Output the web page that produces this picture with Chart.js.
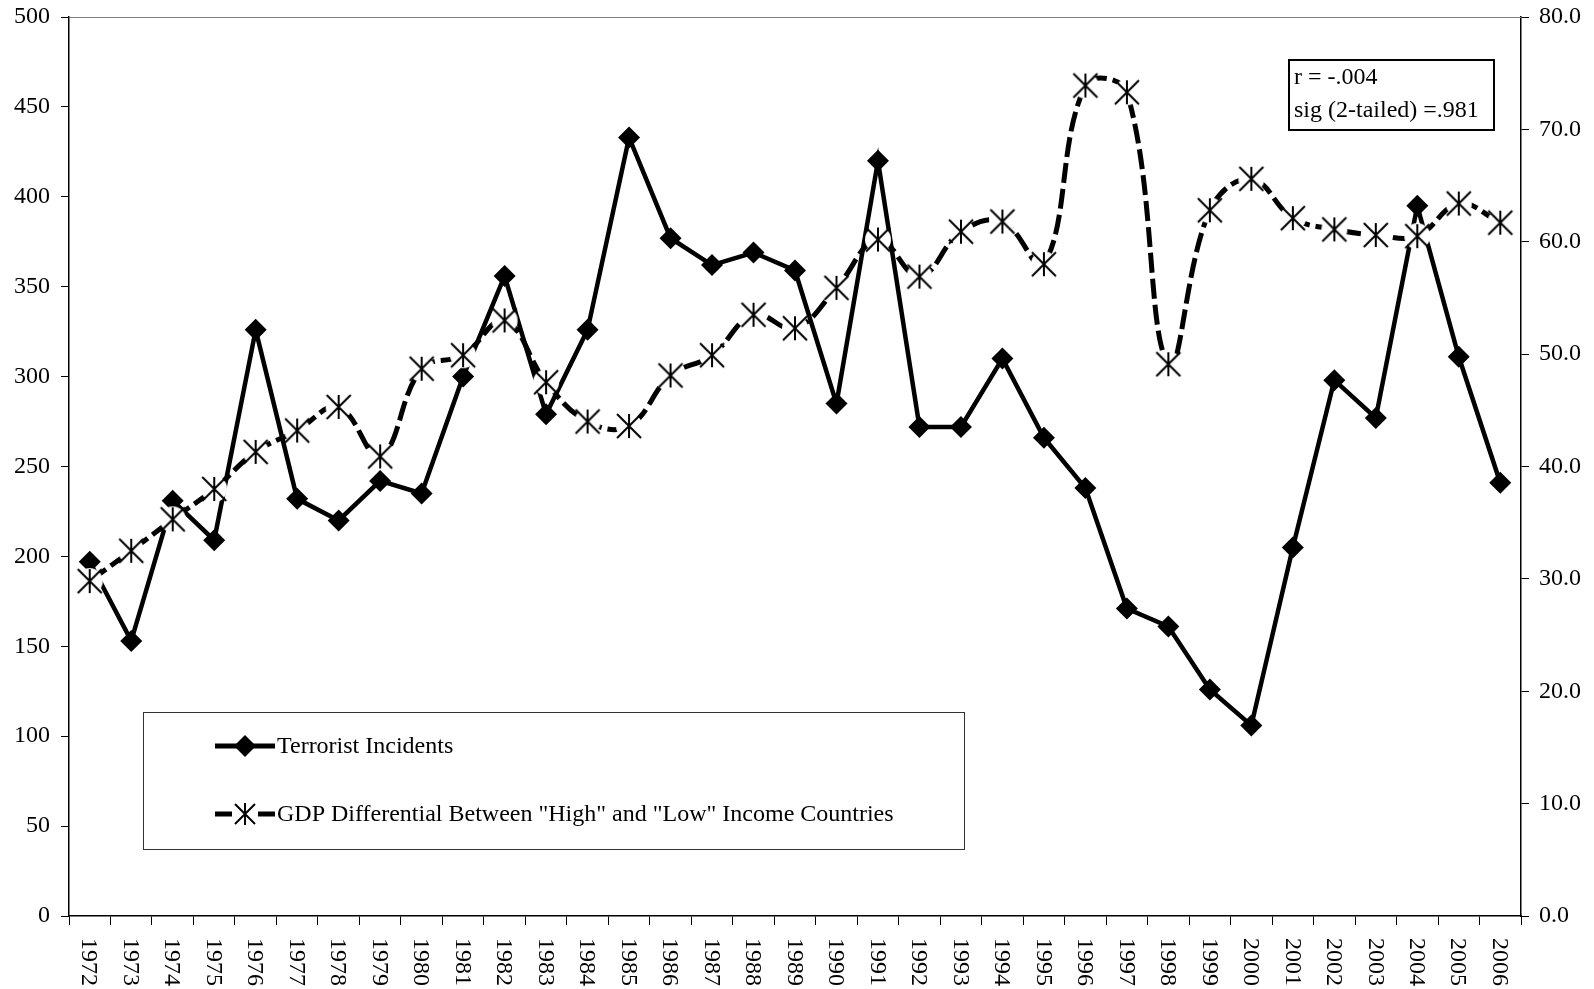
<!DOCTYPE html>
<html>
<head>
<meta charset="utf-8">
<script src="https://cdn.jsdelivr.net/npm/chart.js@4"></script>
<style>
  html, body { margin: 0; padding: 0; background: #fff; }
  #wrap { width: 1594px; height: 989px; }
</style>
</head>
<body>
<div id="wrap"><canvas id="c" width="1594" height="989"></canvas></div>
<script>
const years = ['1972','1973','1974','1975','1976','1977','1978','1979','1980','1981','1982','1983','1984','1985','1986','1987','1988','1989','1990','1991','1992','1993','1994','1995','1996','1997','1998','1999','2000','2001','2002','2003','2004','2005','2006'];
const incidents = [197,153,231,209,326,232,220,242,235,300,356,279,326,433,377,362,369,359,285,420,272,272,310,266,238,171,161,126,106,205,298,277,395,311,241];
const gdpDiff = [29.8,32.5,35.3,38.0,41.3,43.2,45.3,40.9,48.7,49.9,53.0,47.5,44.0,43.6,48.1,49.9,53.5,52.3,55.9,60.2,56.9,60.9,61.8,58.0,73.9,73.3,49.1,62.8,65.6,62.1,61.1,60.6,60.5,63.4,61.7];
const leftAxisRange = [0, 500, 50];
const rightAxisRange = [0, 80, 10];
const seriesNames = ['Terrorist Incidents', 'GDP Differential Between "High" and "Low" Income Countries'];
const statLines = ['r = -.004', 'sig (2-tailed) =.981'];

const FONT = '"Liberation Serif", "Times New Roman", serif';

function makeAsterisk() {
  const s = 30;
  const cv = document.createElement('canvas');
  cv.width = s; cv.height = s;
  const g = cv.getContext('2d');
  const c = s / 2;
  g.fillStyle = '#fff';
  g.beginPath(); g.arc(c, c, 13, 0, Math.PI * 2); g.fill();
  g.strokeStyle = '#000';
  g.lineWidth = 2;
  const r = 12;
  g.beginPath();
  g.moveTo(c - r, c - r); g.lineTo(c + r, c + r);
  g.moveTo(c + r, c - r); g.lineTo(c - r, c + r);
  g.moveTo(c, c - r); g.lineTo(c, c + r);
  g.stroke();
  return cv;
}
const asterisk = makeAsterisk();

const decorations = {
  id: 'decorations',
  afterDraw(chart) {
    const ctx = chart.ctx;
    const ca = chart.chartArea;
    const xs = chart.scales.x;
    ctx.save();
    // top border of plot
    ctx.strokeStyle = '#808080';
    ctx.lineWidth = 1;
    ctx.beginPath();
    ctx.moveTo(ca.left, ca.top + 0.5);
    ctx.lineTo(ca.right, ca.top + 0.5);
    ctx.stroke();

    // x labels rotated clockwise
    ctx.fillStyle = '#000';
    ctx.font = '24px ' + FONT;
    ctx.textAlign = 'left';
    ctx.textBaseline = 'middle';
    years.forEach((y, i) => {
      const px = xs.getPixelForValue(i);
      ctx.save();
      ctx.translate(px - 1, ca.bottom + 22);
      ctx.rotate(Math.PI / 2);
      ctx.fillText(y, 0, 0);
      ctx.restore();
    });

    // legend box
    const lx = 143, ly = 712, lw = 821, lh = 137;
    ctx.strokeStyle = '#333';
    ctx.lineWidth = 1;
    ctx.strokeRect(lx + 0.5, ly + 0.5, lw, lh);
    ctx.font = '24px ' + FONT;
    ctx.textBaseline = 'middle';
    ctx.fillStyle = '#000';
    // entry 1
    let cy = 746;
    ctx.strokeStyle = '#000';
    ctx.lineWidth = 5;
    ctx.setLineDash([]);
    ctx.beginPath(); ctx.moveTo(215, cy); ctx.lineTo(275, cy); ctx.stroke();
    ctx.beginPath();
    ctx.moveTo(245, cy - 11); ctx.lineTo(256, cy); ctx.lineTo(245, cy + 11); ctx.lineTo(234, cy); ctx.closePath();
    ctx.fill();
    ctx.fillText(chart.data.datasets[0].label, 277, cy + 1);
    // entry 2
    cy = 814;
    ctx.lineWidth = 5;
    ctx.beginPath(); ctx.moveTo(215, cy); ctx.lineTo(232, cy); ctx.moveTo(258, cy); ctx.lineTo(275, cy); ctx.stroke();
    ctx.lineWidth = 2;
    ctx.beginPath();
    ctx.moveTo(235, cy - 10); ctx.lineTo(255, cy + 10);
    ctx.moveTo(255, cy - 10); ctx.lineTo(235, cy + 10);
    ctx.moveTo(245, cy - 11); ctx.lineTo(245, cy + 11);
    ctx.stroke();
    ctx.fillText(chart.data.datasets[1].label, 277, cy + 1);

    // stats box
    ctx.lineWidth = 2;
    ctx.strokeStyle = '#000';
    ctx.fillStyle = '#fff';
    ctx.fillRect(1289, 60, 205, 70);
    ctx.strokeRect(1289, 60, 205, 70);
    ctx.fillStyle = '#000';
    ctx.font = '24px ' + FONT;
    ctx.fillText(statLines[0], 1294, 78);
    ctx.fillText(statLines[1], 1294, 111);
    ctx.restore();
  }
};

function noOverflowPad(s) {
  s.paddingTop = 0; s.paddingBottom = 0;
}

new Chart(document.getElementById('c'), {
  type: 'line',
  data: {
    labels: years,
    datasets: [
      {
        label: seriesNames[0],
        data: incidents,
        yAxisID: 'y',
        borderColor: '#000',
        backgroundColor: '#000',
        borderWidth: 4.5,
        tension: 0,
        pointStyle: 'rectRot',
        pointRadius: 11,
        pointHoverRadius: 11,
        pointBackgroundColor: '#000',
        pointBorderColor: '#000',
        pointBorderWidth: 0,
        order: 1
      },
      {
        label: seriesNames[1],
        data: gdpDiff,
        yAxisID: 'y1',
        borderColor: '#000',
        borderWidth: 5,
        borderDash: [20, 6],
        tension: 0.4,
        pointStyle: asterisk,
        pointRadius: 12,
        order: 0
      }
    ]
  },
  options: {
    responsive: false,
    animation: false,
    events: [],
    layout: { padding: { top: 16, left: 0, right: 0, bottom: 0 } },
    plugins: { legend: { display: false }, tooltip: { enabled: false } },
    scales: {
      x: {
        type: 'category',
        offset: true,
        grid: { offset: true, drawOnChartArea: false, drawTicks: true, tickLength: 9, color: '#000', lineWidth: 1 },
        border: { color: '#000', width: 1.5 },
        ticks: { display: false },
        afterFit(s) { s.height = 73; s.paddingLeft = 0; s.paddingRight = 0; }
      },
      y: {
        position: 'left',
        min: leftAxisRange[0], max: leftAxisRange[1],
        ticks: { stepSize: leftAxisRange[2], color: '#000', font: { family: FONT, size: 24 }, padding: 11 },
        grid: { drawOnChartArea: false, drawTicks: true, tickLength: 8, color: '#000' },
        border: { color: '#000', width: 1.5 },
        afterFit(s) { s.width = 69; noOverflowPad(s); }
      },
      y1: {
        position: 'right',
        min: rightAxisRange[0], max: rightAxisRange[1],
        ticks: { stepSize: rightAxisRange[2], color: '#000', font: { family: FONT, size: 24 }, padding: 10,
                 callback: v => Number(v).toFixed(1) },
        grid: { drawOnChartArea: false, drawTicks: true, tickLength: 8, color: '#000' },
        border: { color: '#000', width: 1.5 },
        afterFit(s) { s.width = 73; noOverflowPad(s); }
      }
    }
  },
  plugins: [decorations]
});
</script>
</body>
</html>
